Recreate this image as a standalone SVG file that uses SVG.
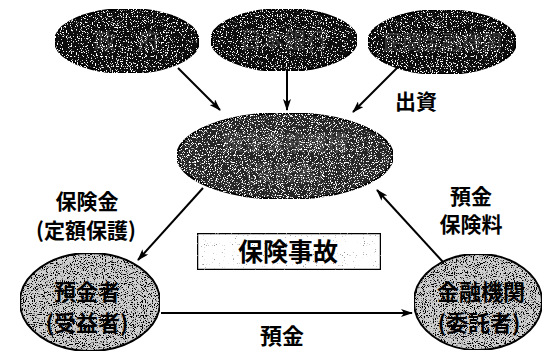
<svg xmlns="http://www.w3.org/2000/svg" width="546" height="354" viewBox="0 0 546 354">
<style>
.t{font-family:"Noto Sans CJK JP","Noto Sans CJK SC",sans-serif;font-weight:bold;text-anchor:middle;fill:#000}
.edge{stroke:#000;stroke-width:2;fill:none}
.dk{fill:#0d0d0d;stroke:#000;stroke-width:2}
.md{fill:#262626;stroke:#000;stroke-width:2}
.lt{fill:#cfcfcf;stroke:#000;stroke-width:2}
</style>
<defs>
<marker id="ah" viewBox="0 0 12 8" refX="11" refY="4" markerWidth="12" markerHeight="8" markerUnits="userSpaceOnUse" orient="auto">
<path d="M0,0 L12,4 L0,8 L3,4 Z" fill="#000"/>
</marker>
<filter id="sDark" x="0" y="0" width="100%" height="100%">
<feTurbulence type="fractalNoise" baseFrequency="0.8" numOctaves="2" seed="4" result="n"/>
<feColorMatrix in="n" type="matrix" values="0 0 0 0 1 0 0 0 0 1 0 0 0 0 1 14 0 0 0 -8.4" result="d"/>
<feComposite in="d" in2="SourceGraphic" operator="atop"/>
</filter>
<filter id="sMid" x="0" y="0" width="100%" height="100%">
<feTurbulence type="fractalNoise" baseFrequency="0.85" numOctaves="2" seed="7" result="n"/>
<feColorMatrix in="n" type="matrix" values="0 0 0 0 1 0 0 0 0 1 0 0 0 0 1 12 0 0 0 -6.9" result="d"/>
<feComposite in="d" in2="SourceGraphic" operator="atop"/>
</filter>
<filter id="sLight" x="0" y="0" width="100%" height="100%">
<feTurbulence type="fractalNoise" baseFrequency="0.9" numOctaves="2" seed="11" result="n"/>
<feColorMatrix in="n" type="matrix" values="0 0 0 0 0 0 0 0 0 0 0 0 0 0 0 10 0 0 0 -5.3" result="d"/>
<feComposite in="d" in2="SourceGraphic" operator="atop"/>
</filter>
<filter id="sBox" x="0" y="0" width="100%" height="100%">
<feTurbulence type="fractalNoise" baseFrequency="0.9" numOctaves="1" seed="2" result="n"/>
<feColorMatrix in="n" type="matrix" values="0 0 0 0 0.3 0 0 0 0 0.3 0 0 0 0 0.3 14 0 0 0 -9.5" result="d"/>
<feComposite in="d" in2="SourceGraphic" operator="atop"/>
</filter>
</defs>

<g id="connectors">
<line class="edge" x1="178" y1="68" x2="220" y2="110" marker-end="url(#ah)"/>
<line class="edge" x1="287" y1="71" x2="287" y2="110" marker-end="url(#ah)"/>
<line class="edge" x1="400" y1="65" x2="353" y2="112" marker-end="url(#ah)"/>
<line class="edge" x1="203" y1="188" x2="138" y2="260" marker-end="url(#ah)"/>
<line class="edge" x1="443" y1="262" x2="377" y2="190" marker-end="url(#ah)"/>
<line class="edge" x1="161" y1="313" x2="412" y2="313" marker-end="url(#ah)"/>
</g>

<g id="labels">
<text class="t" x="416" y="109" font-size="21">出資</text>
<text class="t" x="87" y="209" font-size="21">保険金</text>
<text class="t" x="86" y="238" font-size="21">(定額保護)</text>
<text class="t" x="471" y="204" font-size="21">預金</text>
<text class="t" x="471" y="232" font-size="21">保険料</text>
<text class="t" x="282" y="344" font-size="22">預金</text>
</g>

<g id="n_gov" filter="url(#sDark)">
<ellipse class="dk" cx="127" cy="41" rx="72" ry="32"/>
<text class="t" x="127" y="49" font-size="22" style="fill:#333">政　府</text>
</g>
<g id="n_boj" filter="url(#sDark)">
<ellipse class="dk" cx="284" cy="40" rx="73" ry="31"/>
<text class="t" x="284" y="48" font-size="22" style="fill:#333">日本銀行</text>
</g>
<g id="n_private" filter="url(#sDark)">
<ellipse class="dk" cx="442" cy="42" rx="74" ry="32"/>
<text class="t" x="442" y="50" font-size="20" style="fill:#333">民間金融機関</text>
</g>

<g id="n_dic" filter="url(#sMid)">
<ellipse class="md" cx="285" cy="156" rx="108" ry="43"/>
<text class="t" x="285" y="150" font-size="21" style="fill:#444">預金保険機構</text>
<text class="t" x="285" y="180" font-size="21" style="fill:#444">(受託者)</text>
</g>

<g id="n_depositor">
<ellipse class="lt" cx="90" cy="302" rx="70" ry="49" filter="url(#sLight)"/>
<text class="t" x="87" y="300" font-size="22">預金者</text>
<text class="t" x="87" y="331" font-size="22">(受益者)</text>
</g>

<g id="n_bank">
<ellipse class="lt" cx="478" cy="302" rx="64" ry="48" filter="url(#sLight)"/>
<text class="t" x="481" y="300" font-size="22">金融機関</text>
<text class="t" x="479" y="331" font-size="22">(委託者)</text>
</g>

<g id="n_event">
<rect x="197" y="233" width="184" height="37" fill="#fff" stroke="#000" stroke-width="2.5" filter="url(#sBox)"/>
<text class="t" x="288" y="261" font-size="25">保険事故</text>
</g>
</svg>
